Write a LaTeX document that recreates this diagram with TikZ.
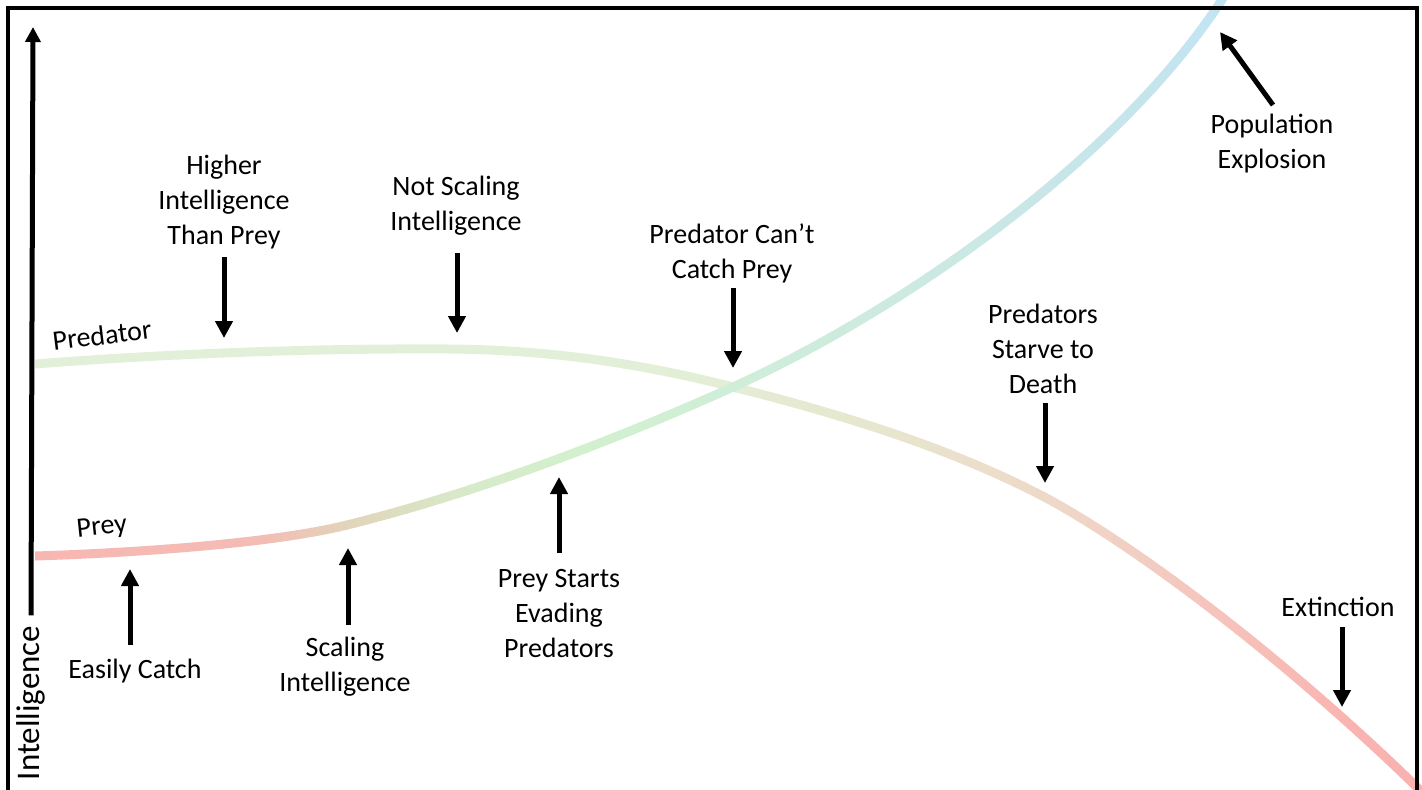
\documentclass[tikz,border=0pt]{standalone}
\usepackage{fontspec}
\setmainfont{Carlito}
\usetikzlibrary{arrows.meta}

% curve colours
\definecolor{pdA}{HTML}{E2F0D9}
\definecolor{pdB}{HTML}{E4EDD5}
\definecolor{pdC}{HTML}{E8E5CD}
\definecolor{pdD}{HTML}{EED9C9}
\definecolor{pdE}{HTML}{F5C6BE}
\definecolor{pdF}{HTML}{F9B5B2}
\definecolor{pdG}{HTML}{FAB0B0}
\definecolor{pyA}{HTML}{F8B6B2}
\definecolor{pyB}{HTML}{F4BCB4}
\definecolor{pyC}{HTML}{E2D4BA}
\definecolor{pyD}{HTML}{D8E8C8}
\definecolor{pyE}{HTML}{D3F0CC}
\definecolor{pyF}{HTML}{CFEED8}
\definecolor{pyG}{HTML}{CCEAE0}
\definecolor{pyH}{HTML}{C8E6E8}
\definecolor{pyI}{HTML}{C2E4F2}

\tikzset{
  curve/.style={line width=4.5pt},
  pointer/.style={line width=2.5pt, -{Triangle[width=8.5pt,length=8.5pt]}},
  axisarrow/.style={line width=2.5pt, -{Triangle[width=7.5pt,length=7.5pt]}},
  lbl/.style={align=center, inner sep=0pt, font=\fontsize{14}{17.5}\selectfont},
}

% stroke a path whose colour changes from left to right,
% #1 = path, #2 = list of xa/colourA/xb/colourB
\newcommand\shadedcurve[2]{%
  \foreach \xa/\ca/\xb/\cb in {#2}{%
    \foreach \k in {1,...,12}{%
      \pgfmathsetmacro\xl{\xa+(\k-1)*(\xb-\xa)/12}%
      \pgfmathsetmacro\xr{\xa+\k*(\xb-\xa)/12+1}%
      \pgfmathsetmacro\pc{100*(\k-0.5)/12}%
      \begin{scope}
        \clip (\xl,-20) rectangle (\xr,820);
        \draw[curve, draw=\cb!\pc!\ca] #1;
      \end{scope}
    }%
  }%
}

\def\predpath{(35,364) .. controls (150,355) and (300,348) .. (450,349)
  .. controls (560,350) and (650,366) .. (733,387)
  .. controls (853,417) and (960,452) .. (1050,500)
  .. controls (1150,555) and (1300,672) .. (1425,795)}
\def\preypath{(35,556) .. controls (130,553) and (270,544) .. (347,525)
  .. controls (480,492) and (620,438) .. (733,387)
  .. controls (850,334) and (980,250) .. (1080,160)
  .. controls (1140,106) and (1190,50) .. (1225,-5)}

\begin{document}
\begin{tikzpicture}[x=0.5pt,y=-0.5pt]
\useasboundingbox (0,0) rectangle (1422,789);
\fill[white] (0,0) rectangle (1422,789);

% predator curve, then prey curve on top
\shadedcurve{\predpath}{35/pdA/600/pdA, 600/pdA/735/pdB, 735/pdB/900/pdC, 900/pdC/1050/pdD, 1050/pdD/1200/pdE, 1200/pdE/1340/pdF, 1340/pdF/1430/pdG}
\shadedcurve{\preypath}{35/pyA/260/pyB, 260/pyB/347/pyC, 347/pyC/450/pyD, 450/pyD/560/pyE, 560/pyE/735/pyF, 735/pyF/900/pyG, 900/pyG/1050/pyH, 1050/pyH/1230/pyI}

% vertical axis
\node[rotate=90, fill=white, inner xsep=5pt, inner ysep=1pt, font=\fontsize{16.5}{19}\selectfont] (ylab) at (31,703) {Intelligence};
\coordinate (axtop) at (33,27);
\draw[axisarrow] (ylab.east) -- (axtop);

% frame
\draw[line width=1.6pt] (8,795) -- (8,8) -- (1417,8) -- (1417,795);

% curve names
\node[lbl, rotate=7] (predname) at (102,335) {Predator};
\node[lbl, rotate=6] (preyname) at (102,528) {Prey};

% annotations
\node[lbl] (hi) at (224,202) {Higher\\Intelligence\\Than Prey};
\coordinate (hiT) at (224,257);
\coordinate (hiH) at (224,338);
\draw[pointer] (hiT) -- (hiH);

\node[lbl] (ns) at (456,206) {Not Scaling\\Intelligence};
\coordinate (nsT) at (457,253);
\coordinate (nsH) at (457,333);
\draw[pointer] (nsT) -- (nsH);

\node[lbl] (cc) at (732,253) {Predator Can’t\\Catch Prey};
\coordinate (ccT) at (733,288);
\coordinate (ccH) at (733,368);
\draw[pointer] (ccT) -- (ccH);

\node[lbl] (sd) at (1043,349) {Predators\\Starve to\\Death};
\coordinate (sdT) at (1045,403);
\coordinate (sdH) at (1045,483);
\draw[pointer] (sdT) -- (sdH);

\node[lbl] (pe) at (1272,144) {Population\\Explosion};
\coordinate (peT) at (1273,105);
\coordinate (peH) at (1220,32);
\draw[pointer] (peT) -- (peH);

\node[lbl] (ex) at (1338,607) {Extinction};
\coordinate (exT) at (1342,627);
\coordinate (exH) at (1342,707);
\draw[pointer] (exT) -- (exH);

\node[lbl] (ec) at (135,671) {Easily Catch};
\coordinate (ecT) at (130,645);
\coordinate (ecH) at (130,569);
\draw[pointer] (ecT) -- (ecH);

\node[lbl] (si) at (345,667) {Scaling\\Intelligence};
\coordinate (siT) at (348,625);
\coordinate (siH) at (348,548);
\draw[pointer] (siT) -- (siH);

\node[lbl] (ev) at (559,613) {Prey Starts\\Evading\\Predators};
\coordinate (evT) at (559,553);
\coordinate (evH) at (559,477);
\draw[pointer] (evT) -- (evH);
\end{tikzpicture}
\end{document}
